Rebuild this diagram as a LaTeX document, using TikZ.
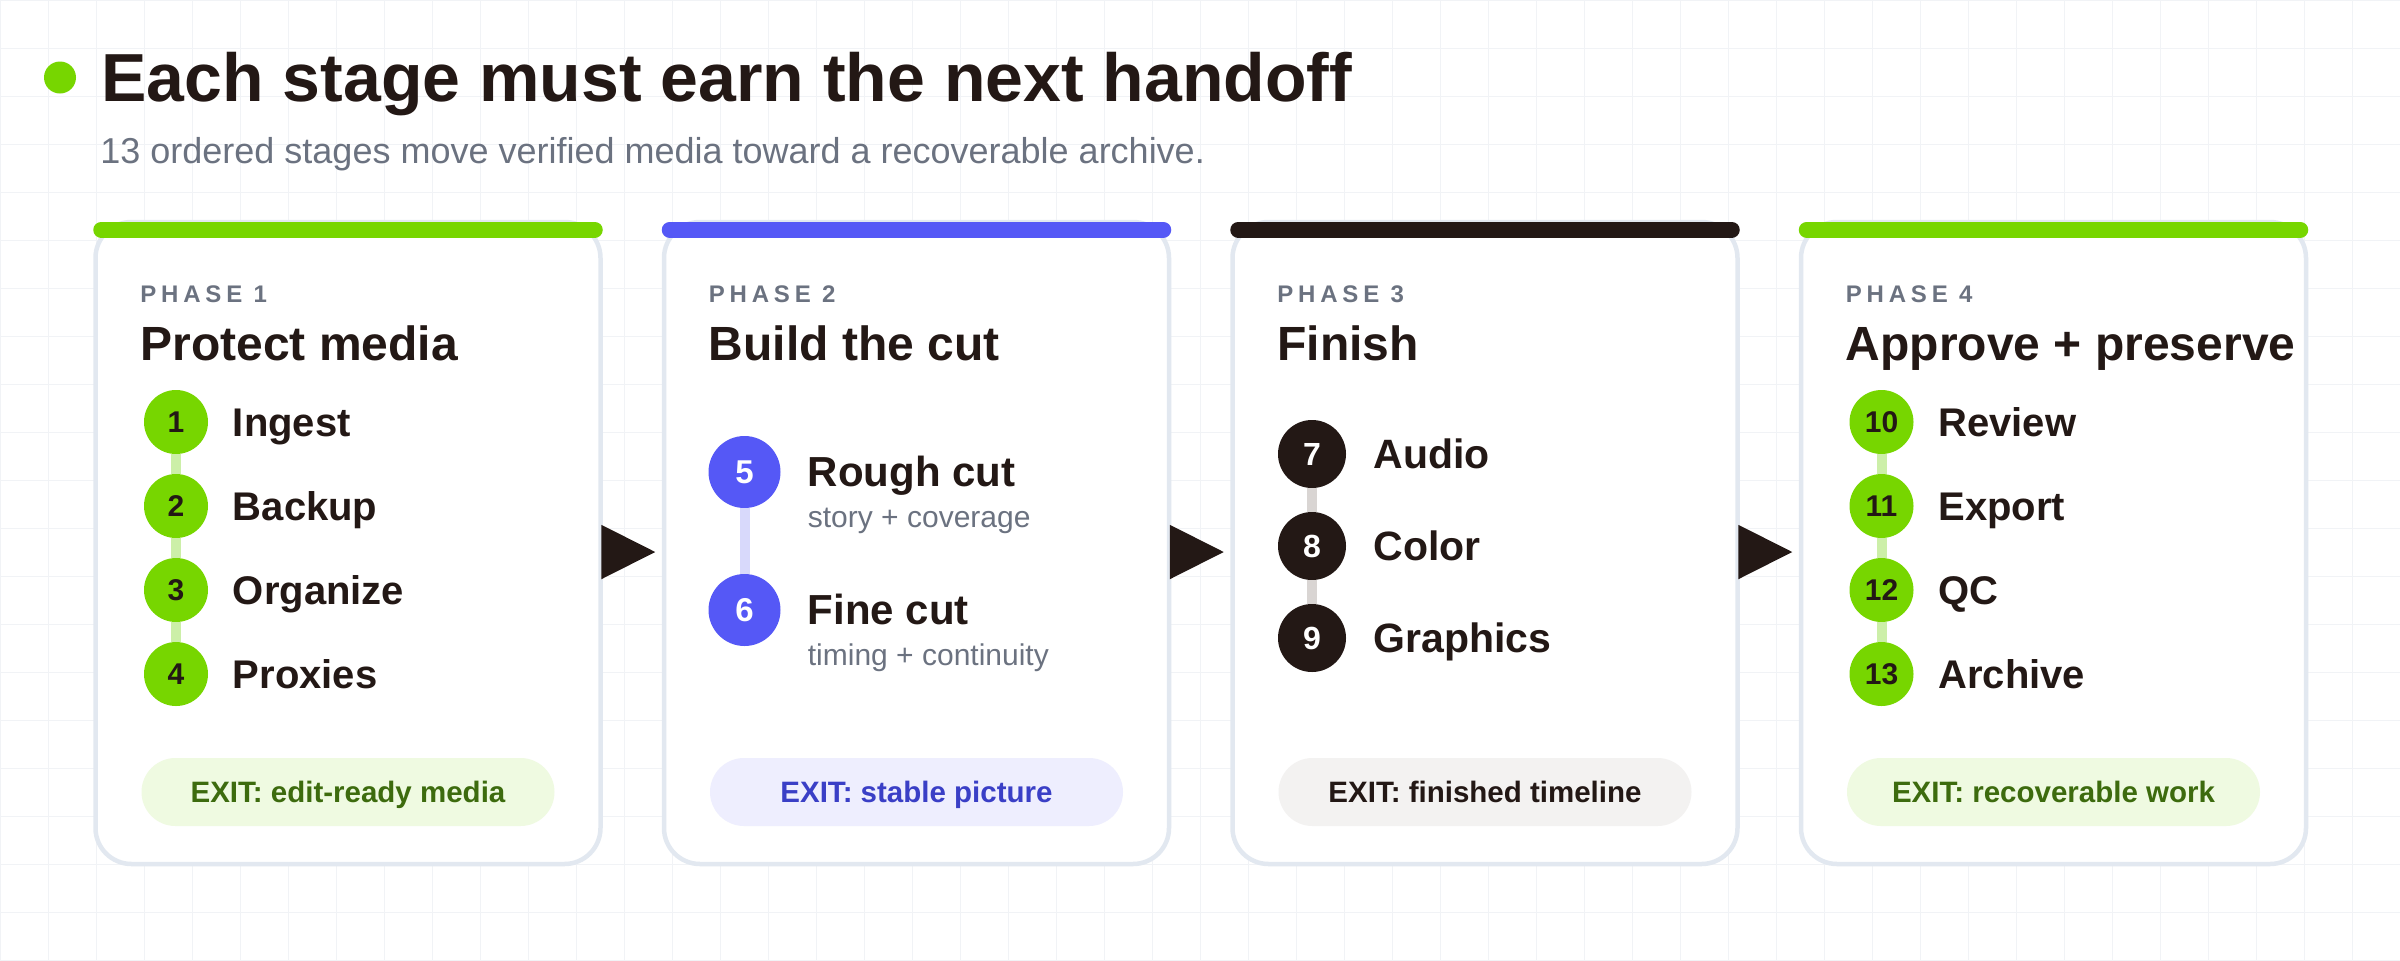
\documentclass[tikz,border=0pt]{standalone}
\usepackage{fontspec}
\setmainfont{Liberation Sans}
\newfontfamily\phasefont[LetterSpace=20]{Liberation Sans}
\usetikzlibrary{arrows.meta}
\newcommand\fsz[1]{\fontsize{#1}{#1}\selectfont}
\definecolor{ink}{HTML}{231815}
\definecolor{muted}{HTML}{6B7280}
\definecolor{lime}{HTML}{77D600}
\definecolor{indigo}{HTML}{5558F6}
\definecolor{limelight}{HTML}{CCEFA8}
\definecolor{indigolight}{HTML}{D8D9FB}
\definecolor{inklight}{HTML}{D9D5D3}
\definecolor{border}{HTML}{E2E8F0}
\definecolor{gridc}{HTML}{F1F3F6}
\definecolor{pillg}{HTML}{EFFAE1}
\definecolor{pilli}{HTML}{EEEEFE}
\definecolor{pillk}{HTML}{F3F2F1}
\definecolor{textg}{HTML}{3D6B0E}
\definecolor{texti}{HTML}{3A3FC6}
\tikzset{
  card/.style={draw=border, line width=2.25pt, fill=white, rounded corners=18pt,
    minimum width=252.5pt, minimum height=321pt, inner sep=0pt},
  bar/.style={line width=8pt, line cap=round},
  phase/.style={anchor=base west, inner sep=0pt, text=muted, font=\phasefont\bfseries\fsz{12}},
  ctitle/.style={anchor=base west, inner sep=0pt, text=ink, font=\bfseries\fsz{24}},
  stepg/.style={circle, fill=lime, text=ink, minimum size=32pt, inner sep=0pt, font=\bfseries\fsz{15}},
  stepi/.style={circle, fill=indigo, text=white, minimum size=36pt, inner sep=0pt, font=\bfseries\fsz{16.5}},
  stepk/.style={circle, fill=ink, text=white, minimum size=34pt, inner sep=0pt, font=\bfseries\fsz{16}},
  lbl/.style={anchor=base west, inner sep=0pt, text=ink, font=\bfseries\fsz{20}},
  lblb/.style={anchor=base west, inner sep=0pt, text=ink, font=\bfseries\fsz{21}},
  lblc/.style={anchor=base west, inner sep=0pt, text=ink, font=\bfseries\fsz{20.5}},
  sublbl/.style={anchor=base west, inner sep=0pt, text=muted, font=\fsz{15}},
  link/.style={line width=5pt},
  pill/.style={rounded corners=17pt, minimum width=206.5pt, minimum height=34pt, inner sep=0pt,
    text height=10.5pt, text depth=0pt, font=\bfseries\fsz{14.75}},
  flow/.style={draw=ink, fill=ink, line width=1pt, -{Triangle[length=27pt,width=27pt]}, shorten >=3.25pt},
  gridline/.style={draw=gridc, line width=0.5pt}
}
\begin{document}
\begin{tikzpicture}[x=0.5pt, y=-0.5pt]
\useasboundingbox (0,0) rectangle (2400,960);
\fill[white] (0,0) rectangle (2400,960);
\foreach \gx in {0,48,...,2400} \draw[gridline] (\gx,0) -- (\gx,960);
\foreach \gy in {0,48,...,960} \draw[gridline] (0,\gy) -- (2400,\gy);

% header
\node[circle, fill=lime, minimum size=16pt, inner sep=0pt] (dot) at (60,77.5) {};
\node[anchor=base west, inner sep=0pt, text=ink, font=\bfseries\fsz{34}] (title) at (101,101.5) {Each stage must earn the next handoff};
\node[anchor=base west, inner sep=0pt, text=muted, font=\fsz{18}] (subtitle) at (100,163) {13 ordered stages move verified media toward a recoverable archive.};

% cards
\node[card] (c1) at (348,543) {};
\node[card] (c2) at (916.5,543) {};
\node[card] (c3) at (1485,543) {};
\node[card] (c4) at (2053.5,543) {};
\draw[bar, lime] ([xshift=4pt,yshift=-5pt]c1.north west) -- ([xshift=-4pt,yshift=-5pt]c1.north east);
\draw[bar, indigo] ([xshift=4pt,yshift=-5pt]c2.north west) -- ([xshift=-4pt,yshift=-5pt]c2.north east);
\draw[bar, ink] ([xshift=4pt,yshift=-5pt]c3.north west) -- ([xshift=-4pt,yshift=-5pt]c3.north east);
\draw[bar, lime] ([xshift=4pt,yshift=-5pt]c4.north west) -- ([xshift=-4pt,yshift=-5pt]c4.north east);

% card 1
\node[phase] (ph1) at (140,302) {PHASE 1};
\node[ctitle] (ti1) at (140,360) {Protect media};
\node[stepg] (s1) at (176,422) {1};
\node[stepg] (s2) at (176,506) {2};
\node[stepg] (s3) at (176,590) {3};
\node[stepg] (s4) at (176,674) {4};
\draw[link, limelight] (s1.south) -- (s2.north);
\draw[link, limelight] (s2.south) -- (s3.north);
\draw[link, limelight] (s3.south) -- (s4.north);
\node[lbl] (l1) at (232.5,436.3) {Ingest};
\node[lbl] (l2) at (232.5,520.3) {Backup};
\node[lbl] (l3) at (232.5,604.3) {Organize};
\node[lbl] (l4) at (232.5,688.3) {Proxies};
\node[pill, fill=pillg, text=textg] (e1) at (348,792) {EXIT: edit-ready media};

% card 2
\node[phase] (ph2) at (708.5,302) {PHASE 2};
\node[ctitle] (ti2) at (708.5,360) {Build the cut};
\node[stepi] (s5) at (744.5,472) {5};
\node[stepi] (s6) at (744.5,610) {6};
\draw[link, indigolight] (s5.south) -- (s6.north);
\node[lblb] (l5) at (807.5,486) {Rough cut};
\node[sublbl] (d5) at (807.5,527) {story + coverage};
\node[lblb] (l6) at (807.5,624) {Fine cut};
\node[sublbl] (d6) at (807.5,665) {timing + continuity};
\node[pill, fill=pilli, text=texti] (e2) at (916.5,792) {EXIT: stable picture};

% card 3
\node[phase] (ph3) at (1277,302) {PHASE 3};
\node[ctitle] (ti3) at (1277,360) {Finish};
\node[stepk] (s7) at (1312,454) {7};
\node[stepk] (s8) at (1312,546) {8};
\node[stepk] (s9) at (1312,638) {9};
\draw[link, inklight] (s7.south) -- (s8.north);
\draw[link, inklight] (s8.south) -- (s9.north);
\node[lblc] (l7) at (1373,468) {Audio};
\node[lblc] (l8) at (1373,560) {Color};
\node[lblc] (l9) at (1373,652) {Graphics};
\node[pill, fill=pillk, text=ink] (e3) at (1485,792) {EXIT: finished timeline};

% card 4
\node[phase] (ph4) at (1845.5,302) {PHASE 4};
\node[ctitle] (ti4) at (1845.5,360) {Approve + preserve};
\node[stepg] (s10) at (1881.5,422) {10};
\node[stepg] (s11) at (1881.5,506) {11};
\node[stepg] (s12) at (1881.5,590) {12};
\node[stepg] (s13) at (1881.5,674) {13};
\draw[link, limelight] (s10.south) -- (s11.north);
\draw[link, limelight] (s11.south) -- (s12.north);
\draw[link, limelight] (s12.south) -- (s13.north);
\node[lbl] (l10) at (1938,436.3) {Review};
\node[lbl] (l11) at (1938,520.3) {Export};
\node[lbl] (l12) at (1938,604.3) {QC};
\node[lbl] (l13) at (1938,688.3) {Archive};
\node[pill, fill=pillg, text=textg] (e4) at (2053.5,792) {EXIT: recoverable work};

% handoffs
\draw[flow] ([yshift=-4.5pt]c1.east) -- ([yshift=-4.5pt]c2.west);
\draw[flow] ([yshift=-4.5pt]c2.east) -- ([yshift=-4.5pt]c3.west);
\draw[flow] ([yshift=-4.5pt]c3.east) -- ([yshift=-4.5pt]c4.west);
\end{tikzpicture}
\end{document}
